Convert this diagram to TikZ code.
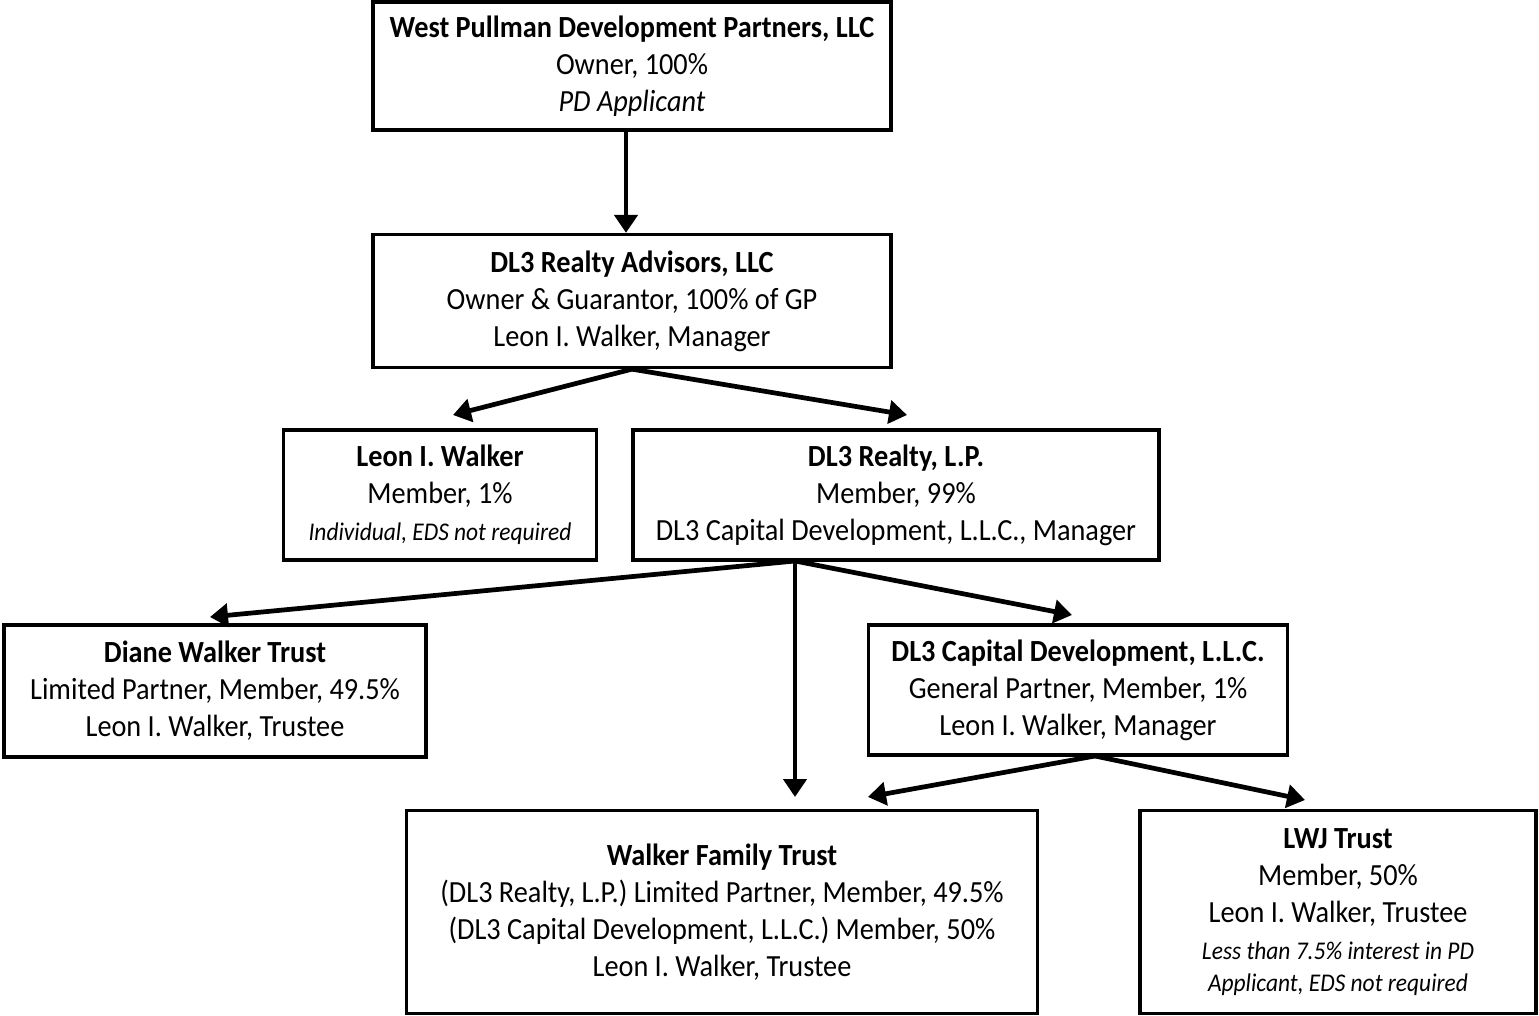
\documentclass[tikz,border=0pt]{standalone}
\usepackage{fontspec}
\setmainfont{Carlito}[FakeStretch=0.92]
\usetikzlibrary{arrows.meta}
\newcommand{\smallnote}[1]{{\fontsize{14.5}{17}\selectfont\itshape #1}}

\begin{document}
\begin{tikzpicture}[
    x=0.02cm, y=-0.02cm,
    box/.style={draw, line width=1.9pt, align=center, inner sep=0pt, font=\fontsize{17.5}{21}\selectfont},
    arrow/.style={-{Triangle[length=0.36cm, width=0.46cm]}, line width=2.7pt}
]
    \useasboundingbox (0,0) rectangle (1539,1016);

    \node[box, minimum width=10.36cm, minimum height=2.56cm] (wp) at (632,66) {\textbf{West Pullman Development Partners, LLC}\\ Owner, 100\%\\ \textit{PD Applicant}};
    \node[box, minimum width=10.36cm, minimum height=2.66cm] (adv) at (632,301) {\textbf{DL3 Realty Advisors, LLC}\\ Owner \& Guarantor, 100\% of GP\\ Leon I. Walker, Manager};
    \node[box, minimum width=6.26cm, minimum height=2.6cm] (liw) at (440,495) {\textbf{Leon I. Walker}\\ Member, 1\%\\ \smallnote{Individual, EDS not required}};
    \node[box, minimum width=10.52cm, minimum height=2.6cm] (lp) at (896,495) {\textbf{DL3 Realty, L.P.}\\ Member, 99\%\\ DL3 Capital Development, L.L.C., Manager};
    \node[box, minimum width=8.44cm, minimum height=2.64cm] (dwt) at (215,691) {\textbf{Diane Walker Trust}\\ Limited Partner, Member, 49.5\%\\ Leon I. Walker, Trustee};
    \node[box, minimum width=8.38cm, minimum height=2.6cm] (cap) at (1078,690) {\textbf{DL3 Capital Development, L.L.C.}\\ General Partner, Member, 1\%\\ Leon I. Walker, Manager};
    \node[box, minimum width=12.62cm, minimum height=4.06cm] (wft) at (722,912) {\textbf{Walker Family Trust}\\ (DL3 Realty, L.P.) Limited Partner, Member, 49.5\%\\ (DL3 Capital Development, L.L.C.) Member, 50\%\\ Leon I. Walker, Trustee};
    \node[box, minimum width=7.92cm, minimum height=4.06cm] (lwj) at (1338,912) {\textbf{LWJ Trust}\\ Member, 50\%\\ Leon I. Walker, Trustee\\ \smallnote{Less than 7.5\% interest in PD}\\[-3pt] \smallnote{Applicant, EDS not required}};

    % fork points and arrow tips
    \coordinate (lpfork) at (795,561);
    \coordinate (capfork) at (1095,756);
    \coordinate (toliw) at (453,415);
    \coordinate (tolp) at (907,415);
    \coordinate (todwt) at (210,617);
    \coordinate (towft) at (795,797);
    \coordinate (tocap) at (1072,615);
    \coordinate (towft2) at (868,797);
    \coordinate (tolwj) at (1305,800);

    \draw[arrow] ([xshift=-0.12cm]wp.south) -- ([xshift=-0.12cm]adv.north);
    \draw[arrow] (adv.south) -- (toliw);
    \draw[arrow] (adv.south) -- (tolp);
    \draw[arrow] (lpfork) -- (todwt);
    \draw[arrow] (lpfork) -- (towft);
    \draw[arrow] (lpfork) -- (tocap);
    \draw[arrow] (capfork) -- (towft2);
    \draw[arrow] (capfork) -- (tolwj);
\end{tikzpicture}
\end{document}
